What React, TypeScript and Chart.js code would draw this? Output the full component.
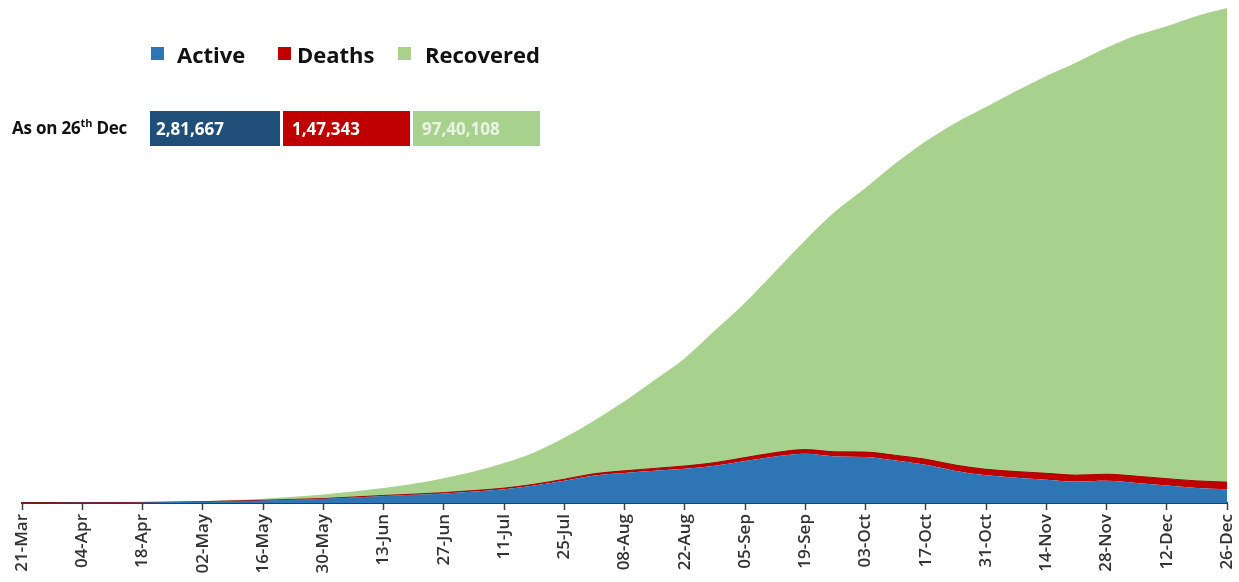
import React, { useEffect, useRef } from "react";
import { Chart, registerables } from "chart.js";

Chart.register(...registerables);

// Weekly dates (every 7 days from 21-Mar to 26-Dec); every second one is labelled
const weekDates = [
  "21-Mar", "28-Mar", "04-Apr", "11-Apr", "18-Apr", "25-Apr", "02-May", "09-May",
  "16-May", "23-May", "30-May", "06-Jun", "13-Jun", "20-Jun", "27-Jun", "04-Jul",
  "11-Jul", "18-Jul", "25-Jul", "01-Aug", "08-Aug", "15-Aug", "22-Aug", "29-Aug",
  "05-Sep", "12-Sep", "19-Sep", "26-Sep", "03-Oct", "10-Oct", "17-Oct", "24-Oct",
  "31-Oct", "07-Nov", "14-Nov", "21-Nov", "28-Nov", "05-Dec", "12-Dec", "19-Dec",
  "26-Dec",
];

const activeCases = [
  300, 880, 2790, 6580, 12310, 18620, 26580, 40000,
  52950, 70270, 86430, 116350, 146120, 169100, 197700, 236350,
  282900, 357700, 456600, 565500, 618500, 662000, 704200, 765500,
  862400, 955400, 1010200, 956500, 945200, 870600, 785100, 659200,
  570400, 520400, 479800, 439300, 454800, 410300, 357800, 308900,
  281667,
];

const deathCases = [
  4, 24, 80, 250, 490, 780, 1220, 2000,
  2750, 3730, 4970, 6650, 8880, 12900, 15300, 18650,
  22100, 26300, 31400, 36500, 42500, 49000, 55800, 63500,
  70600, 78600, 86800, 94500, 100800, 107400, 112900, 117800,
  121600, 125600, 129200, 132700, 136200, 139700, 142200, 145100,
  147343,
];

const recoveredCases = [
  26, 90, 230, 770, 2000, 5100, 10000, 18000,
  30300, 52000, 82600, 114000, 154000, 214000, 296000, 394000,
  516000, 655000, 850000, 1095000, 1427000, 1816000, 2216000, 2713000,
  3180000, 3720000, 4303000, 4941000, 5427000, 6001000, 6534000, 7037000,
  7445000, 7816000, 8165000, 8478000, 8760000, 9058000, 9296000, 9551000,
  9740108,
];

const seriesNames = ["Active", "Deaths", "Recovered"];
const seriesColors = ["#2E75B6", "#C00000", "#A9D18E"];
const boxColors = ["#1F4E79", "#C00000", "#A9D18E"];
const boxValues = ["2,81,667", "1,47,343", "97,40,108"];
const yMax = 10169118;

export default function App() {
  const canvasRef = useRef<HTMLCanvasElement | null>(null);

  useEffect(() => {
    document.body.style.margin = "0";
    const canvas = canvasRef.current;
    if (!canvas) return;
    const chart = new Chart(canvas, {
      type: "line",
      data: {
        labels: weekDates,
        datasets: [
          {
            label: seriesNames[0],
            data: activeCases,
            backgroundColor: seriesColors[0],
            borderWidth: 0,
            fill: "origin",
            pointRadius: 0,
            cubicInterpolationMode: "monotone",
          },
          {
            label: seriesNames[1],
            data: deathCases,
            backgroundColor: seriesColors[1],
            borderColor: "#A50000",
            borderWidth: 1,
            fill: "-1",
            pointRadius: 0,
            cubicInterpolationMode: "monotone",
          },
          {
            label: seriesNames[2],
            data: recoveredCases,
            backgroundColor: seriesColors[2],
            borderWidth: 0,
            fill: "-1",
            pointRadius: 0,
            cubicInterpolationMode: "monotone",
          },
        ],
      },
      options: {
        responsive: false,
        animation: false,
        devicePixelRatio: 1,
        layout: { padding: { left: 22, right: 12, top: 8, bottom: 0 } },
        plugins: {
          legend: { display: false },
          tooltip: { enabled: false },
        },
        scales: {
          x: {
            type: "category",
            offset: false,
            afterFit: (scale: any) => {
              scale.height = 79;
              scale.paddingLeft = 0;
              scale.paddingRight = 0;
            },
            grid: {
              display: true,
              drawOnChartArea: false,
              drawTicks: true,
              tickLength: 7,
              tickWidth: 1.5,
              tickColor: (ctx: any) => (ctx.index % 2 === 0 ? "#404040" : "rgba(0,0,0,0)"),
            },
            border: { display: true, color: "#3a3a3a", width: 2 },
            ticks: {
              autoSkip: false,
              maxRotation: 90,
              minRotation: 90,
              padding: 4,
              color: "#333",
              font: { family: "'Open Sans', sans-serif", size: 17, weight: "600" },
              callback: (_v: any, i: number) => (i % 2 === 0 ? weekDates[i] : ""),
            },
          },
          y: {
            display: false,
            stacked: true,
            min: 0,
            max: yMax,
          },
        },
      },
    });
    return () => chart.destroy();
  }, []);

  const legendItems = [
    { sq: 151, txt: 177 },
    { sq: 278, txt: 297 },
    { sq: 398, txt: 425 },
  ];
  const boxes = [
    { left: 150, width: 130, pad: 6 },
    { left: 283, width: 127, pad: 9 },
    { left: 413, width: 127, pad: 9 },
  ];

  return (
    <div style={{ position: "relative", width: 1239, height: 582, fontFamily: "'Open Sans', sans-serif" }}>
      <canvas ref={canvasRef} width={1239} height={582} style={{ position: "absolute", left: 0, top: 0, width: 1239, height: 582 }} />
      {legendItems.map((it, i) => (
        <React.Fragment key={seriesNames[i]}>
          <div style={{ position: "absolute", left: it.sq, top: 47, width: 13, height: 13, background: seriesColors[i] }} />
          <div style={{ position: "absolute", left: it.txt, top: 43, fontSize: 22, lineHeight: "22px", fontWeight: 700, color: "#111", whiteSpace: "nowrap" }}>
            {seriesNames[i]}
          </div>
        </React.Fragment>
      ))}
      <div style={{ position: "absolute", left: 12, top: 117, fontSize: 17, lineHeight: "22px", fontWeight: 700, color: "#111", whiteSpace: "nowrap", letterSpacing: "-0.2px" }}>
        As on 26<sup style={{ fontSize: 11, verticalAlign: "7px", lineHeight: 0 }}>th</sup> Dec
      </div>
      {boxes.map((b, i) => (
        <div
          key={boxValues[i]}
          style={{
            position: "absolute",
            left: b.left,
            top: 111,
            width: b.width,
            height: 35,
            background: boxColors[i],
            color: i === 2 ? "rgba(255,255,255,0.75)" : "#fff",
            fontSize: 17,
            fontWeight: 700,
            lineHeight: "35px",
            paddingLeft: b.pad,
            boxSizing: "border-box",
            whiteSpace: "nowrap",
          }}
        >
          {boxValues[i]}
        </div>
      ))}
    </div>
  );
}
